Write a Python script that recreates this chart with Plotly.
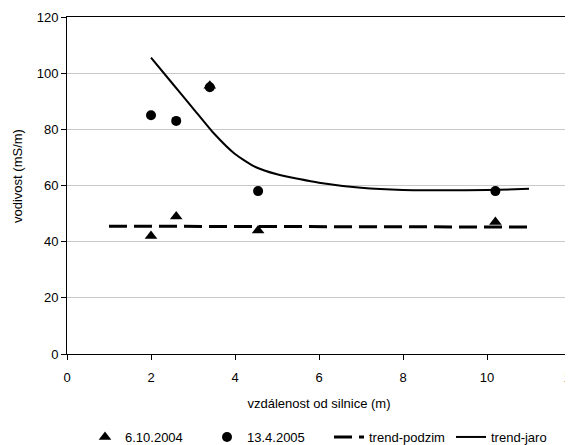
import plotly.graph_objects as go

# data
x_pts = [2.0, 2.6, 3.4, 4.55, 10.2]
autumn_2004 = [42, 49, 95.5, 44, 47]      # 6.10.2004 (triangles)
spring_2005 = [85, 83, 95, 58, 58]        # 13.4.2005 (circles)

trend_podzim_x = [1, 11]
trend_podzim_y = [45.5, 45.2]

trend_jaro_x = [2, 2.5, 3, 3.5, 4, 4.5, 5, 5.5, 6, 7, 8, 9, 10, 11]
trend_jaro_y = [105.5, 96.5, 87.5, 78.5, 71.2, 66.5, 64.0, 62.4, 61.0, 59.2, 58.4, 58.3, 58.4, 58.8]

x_ticks = [0, 2, 4, 6, 8, 10, 12]
y_ticks = [0, 20, 40, 60, 80, 100, 120]

FONT = "Arial, Liberation Sans, sans-serif"
PW, PH = 504, 337  # plot area size in px

fig = go.Figure()
fig.add_trace(go.Scatter(x=x_pts, y=autumn_2004, mode="markers", name="6.10.2004",
                         marker=dict(symbol="triangle-up", size=11, color="black")))
fig.add_trace(go.Scatter(x=x_pts, y=spring_2005, mode="markers", name="13.4.2005",
                         marker=dict(symbol="circle", size=10, color="black")))
fig.add_trace(go.Scatter(x=trend_podzim_x, y=trend_podzim_y, mode="lines", name="trend-podzim",
                         line=dict(color="black", width=3, dash="18px,7px")))
fig.add_trace(go.Scatter(x=trend_jaro_x, y=trend_jaro_y, mode="lines", name="trend-jaro",
                         line=dict(color="black", width=2, shape="spline", smoothing=0.6)))

fig.update_layout(
    width=565, height=437,
    margin=dict(l=59, r=2, t=9, b=91, autoexpand=False),
    paper_bgcolor="white", plot_bgcolor="white",
    font=dict(family=FONT, size=13, color="black"),
    showlegend=True,
    legend=dict(orientation="h", x=(93 - 75) / PW, xanchor="left", y=(354 - 437) / PH, yanchor="middle",
                font=dict(size=13), itemwidth=30, entrywidth=77, tracegroupgap=0),
    xaxis=dict(range=[0, 12], tickvals=x_ticks, showgrid=False, zeroline=False, automargin=False,
               showline=True, linecolor="black", linewidth=1, mirror=True,
               ticks="outside", ticklen=5, tickcolor="black", ticklabelstandoff=6,
               ticklabeloverflow="allow",
               title=dict(text="vzdálenost od silnice (m)", standoff=15, font=dict(size=13))),
    yaxis=dict(range=[0, 120], tickvals=y_ticks, showgrid=True, gridcolor="#c8c8c8", gridwidth=1,
               zeroline=False, showline=True, linecolor="black", linewidth=1, mirror=True,
               automargin=False,
               ticks="outside", ticklen=5, tickcolor="black", ticklabelstandoff=0),
    annotations=[dict(text="vodivost (mS/m)", xref="paper", yref="paper",
                      x=(17 - 67) / PW, y=(354 - 176) / PH, textangle=-90,
                      showarrow=False, xanchor="center", yanchor="middle",
                      font=dict(size=13))],
)

fig.write_html("out.html")
